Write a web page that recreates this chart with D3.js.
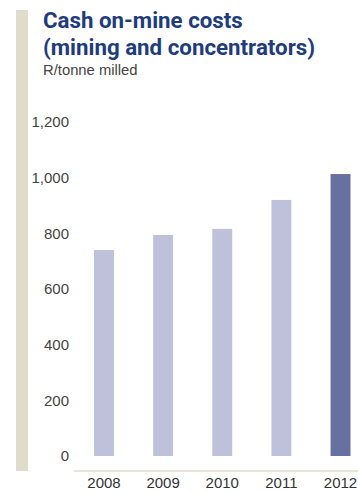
<!DOCTYPE html>
<html>
<head>
<meta charset="utf-8">
<script src="https://cdn.jsdelivr.net/npm/d3@7"></script>
<style>
  html, body { margin: 0; padding: 0; background: #fff; }
  svg { display: block; }
</style>
</head>
<body>
<script>
// Cash on-mine costs, R/tonne milled
const years = ["2008", "2009", "2010", "2011", "2012"];
const costs = [740, 794, 816, 920, 1013];
const yTicks = [0, 200, 400, 600, 800, 1000, 1200];

const W = 358, H = 492;
const labelFont = "'Liberation Sans', Arial, sans-serif";
const svg = d3.select("body").append("svg").attr("width", W).attr("height", H);

// side accent band
svg.append("rect").attr("x", 16).attr("y", 10).attr("width", 12).attr("height", 461).attr("fill", "#e0dccb");

// title block
const title = svg.append("text")
  .attr("font-family", "Roboto, 'Liberation Sans', sans-serif")
  .attr("font-weight", "bold").attr("font-size", 22.3).attr("fill", "#1e3c7e");
title.append("tspan").attr("x", 43).attr("y", 28).text("Cash on-mine costs");
title.append("tspan").attr("x", 43).attr("y", 55).text("(mining and concentrators)");
svg.append("text").attr("x", 43).attr("y", 75)
  .attr("font-family", labelFont)
  .attr("font-size", 14.8).attr("fill", "#444").text("R/tonne milled");

const y = d3.scaleLinear().domain([0, 1200]).range([456, 122]);
const x = d3.scaleBand().domain(years).range([74.5, 370]).paddingInner(0.663).paddingOuter(0.33);

// y tick labels
const yAxis = d3.axisLeft(y).tickValues(yTicks).tickSize(0).tickPadding(0).tickFormat(d3.format(","));
const gy = svg.append("g").attr("transform", "translate(69,0)").call(yAxis);
gy.select(".domain").remove();
gy.selectAll("text").attr("font-family", labelFont)
  .attr("font-size", 15).attr("fill", "#444");

// bars
svg.append("g").selectAll("rect").data(costs).join("rect")
  .attr("x", (d, i) => x(years[i]))
  .attr("width", x.bandwidth())
  .attr("y", d => y(d))
  .attr("height", d => y(0) - y(d))
  .attr("fill", (d, i) => i === years.length - 1 ? "#6670a1" : "#bfc1da");

// baseline
svg.append("line").attr("x1", 74).attr("x2", W).attr("y1", 471).attr("y2", 471)
  .attr("stroke", "#e0dccb").attr("stroke-width", 1.5);

// x labels
const xAxis = d3.axisBottom(x).tickSize(0).tickPadding(0);
const gx = svg.append("g").attr("transform", "translate(0,477)").call(xAxis);
gx.select(".domain").remove();
gx.selectAll("text").attr("font-family", labelFont)
  .attr("font-size", 15).attr("fill", "#333");
</script>
</body>
</html>
